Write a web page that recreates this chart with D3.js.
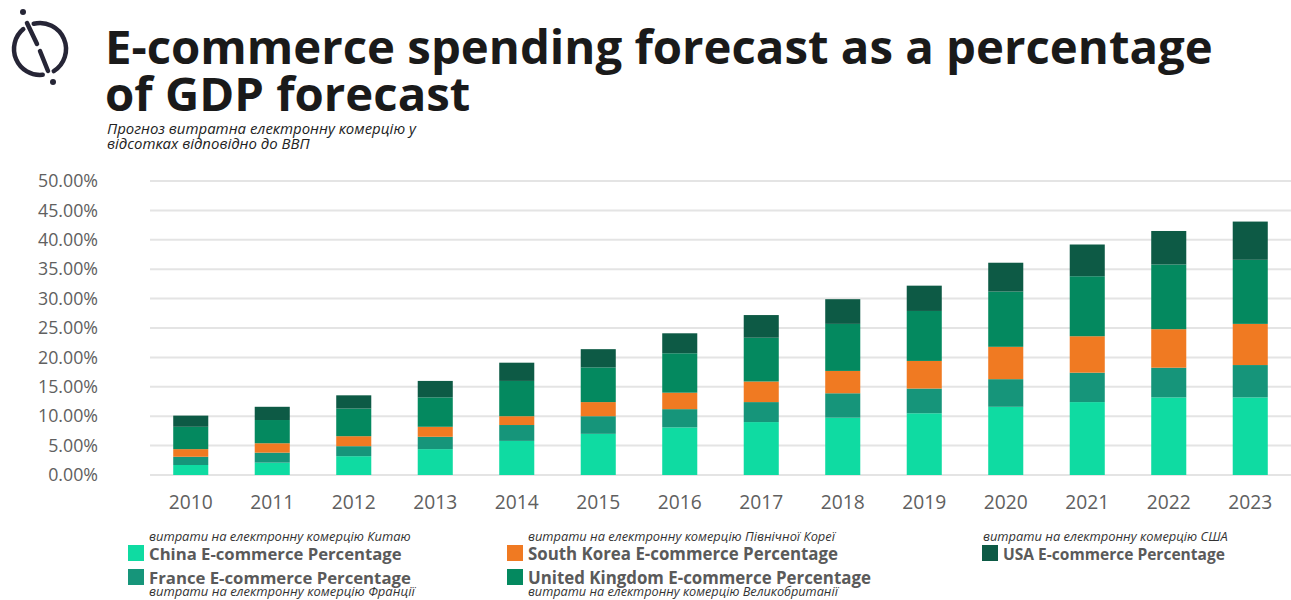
<!DOCTYPE html>
<html>
<head>
<meta charset="utf-8">
<script src="https://cdn.jsdelivr.net/npm/d3@7"></script>
<style>
  html, body { margin: 0; padding: 0; background: #fff; }
  svg { display: block; }
</style>
</head>
<body>
<svg id="chart" width="1291" height="600"></svg>
<script>
// Forecast years and e-commerce spending (% of GDP) per country, stacked bottom to top
const years = ["2010","2011","2012","2013","2014","2015","2016","2017","2018","2019","2020","2021","2022","2023"];
const china  = [1.7, 2.1, 3.2, 4.4, 5.8, 7.0, 8.1, 9.0, 9.75, 10.5, 11.6, 12.4, 13.2, 13.2];
const france = [1.4, 1.7, 1.7, 2.1, 2.7, 3.0, 3.1, 3.4, 4.15, 4.2, 4.7, 5.0, 5.05, 5.5];
const korea  = [1.3, 1.6, 1.7, 1.7, 1.5, 2.4, 2.8, 3.5, 3.8, 4.7, 5.5, 6.2, 6.55, 7.0];
const uk     = [3.8, 3.95, 4.7, 5.0, 6.0, 5.9, 6.7, 7.45, 8.0, 8.5, 9.4, 10.2, 11.0, 10.9];
const usa    = [1.9, 2.25, 2.25, 2.8, 3.1, 3.1, 3.4, 3.85, 4.2, 4.3, 4.9, 5.4, 5.7, 6.5];
const yTicks = [0, 5, 10, 15, 20, 25, 30, 35, 40, 45, 50];

const seriesKeys = ["china", "france", "korea", "uk", "usa"];
const seriesNames = {
  china: "China E-commerce Percentage",
  france: "France E-commerce Percentage",
  korea: "South Korea E-commerce Percentage",
  uk: "United Kingdom E-commerce Percentage",
  usa: "USA E-commerce Percentage"
};
const seriesNotes = {
  china: "витрати на електронну комерцію Китаю",
  france: "витрати на електронну комерцію Франції",
  korea: "витрати на електронну комерцію Північної Кореї",
  uk: "витрати на електронну комерцію Великобританії",
  usa: "витрати на електронну комерцію США"
};
const colors = {
  china: "#0fdba2",
  france: "#16957a",
  korea: "#f07a22",
  uk: "#04895f",
  usa: "#0d5a45"
};

const table = years.map((yr, i) => ({
  year: yr, china: china[i], france: france[i], korea: korea[i], uk: uk[i], usa: usa[i]
}));

const svg = d3.select("#chart");
const FONT = "'Open Sans', 'Noto Sans', sans-serif";

// Fit a text/tspan node to a target width by adjusting its font size
function fitWidth(sel, target) {
  const node = sel.node();
  const fs = parseFloat(sel.attr("font-size"));
  const w = node.getComputedTextLength();
  if (w > 0) sel.attr("font-size", (fs * target / w).toFixed(2));
  return sel;
}

// ---- logo: broken ring crossed by a broken diagonal, with two dots ----
const INK = "#262536";
const logo = svg.append("g").attr("transform", "translate(40,49)")
  .attr("fill", "none").attr("stroke", INK).attr("stroke-width", 4.5).attr("stroke-linecap", "round");
const R = 26;
const rad = deg => deg * Math.PI / 180;
function arcPath(a0, a1) {
  const p = d3.path();
  p.arc(0, 0, R, rad(a0), rad(a1));
  return p.toString();
}
logo.append("path").attr("d", arcPath(-104, 58));
logo.append("path").attr("d", arcPath(84, 230));
logo.append("line").attr("x1", -13).attr("y1", -26).attr("x2", -3).attr("y2", -5);
logo.append("line").attr("x1", 0).attr("y1", 2).attr("x2", 8).attr("y2", 22);
logo.append("circle").attr("cx", -17).attr("cy", -37).attr("r", 3).attr("fill", INK).attr("stroke", "none");
logo.append("circle").attr("cx", 13).attr("cy", 33).attr("r", 3).attr("fill", INK).attr("stroke", "none");

// ---- heading block: two-line title plus two-line italic subtitle ----
const heading = svg.append("text").attr("font-family", FONT).attr("fill", "#1a1a1a");
const t1 = heading.append("tspan").attr("x", 105).attr("y", 64)
  .attr("font-weight", 700).attr("font-size", 42)
  .text("E-commerce spending forecast as a percentage");
fitWidth(t1, 1108);
heading.append("tspan").attr("x", 105).attr("y", 111)
  .attr("font-weight", 700).attr("font-size", t1.attr("font-size"))
  .text("of GDP forecast");
const s1 = heading.append("tspan").attr("x", 107).attr("y", 134)
  .attr("font-style", "italic").attr("font-size", 13).attr("fill", "#222")
  .text("Прогноз витратна електронну комерцію у");
fitWidth(s1, 309);
heading.append("tspan").attr("x", 107).attr("y", 149)
  .attr("font-style", "italic").attr("font-size", s1.attr("font-size")).attr("fill", "#222")
  .text("відсотках відповідно до ВВП");

// ---- scales ----
const x = d3.scaleBand().domain(years).range([150, 1291]).paddingInner(0.57).paddingOuter(0.285);
const y = d3.scaleLinear().domain([0, 50]).range([475, 181]);

// gridlines
svg.append("g").selectAll("line").data(yTicks).join("line")
  .attr("x1", 150).attr("x2", 1291)
  .attr("y1", d => y(d)).attr("y2", d => y(d))
  .attr("stroke", "#e4e4e4").attr("stroke-width", 2);

// y axis labels
const yAxis = svg.append("g").attr("transform", "translate(98,0)")
  .call(d3.axisLeft(y).tickValues(yTicks).tickSize(0).tickPadding(0).tickFormat(d => d.toFixed(2) + "%"));
yAxis.select(".domain").remove();
const yLabels = yAxis.selectAll("text").attr("font-family", FONT).attr("font-size", 16).attr("fill", "#606060");
const yTop = yLabels.filter(d => d === 50);
fitWidth(yTop, 60);
yLabels.attr("font-size", yTop.attr("font-size"));

// x axis labels
const xAxis = svg.append("g").attr("transform", "translate(0,495)")
  .call(d3.axisBottom(x).tickSize(0).tickPadding(0));
xAxis.select(".domain").remove();
const xLabels = xAxis.selectAll("text").attr("font-family", FONT).attr("font-size", 17).attr("fill", "#606060").attr("dy", "0.71em");
const xFirst = xLabels.filter(d => d === "2010");
fitWidth(xFirst, 44);
xLabels.attr("font-size", xFirst.attr("font-size"));

// ---- stacked bars ----
const stack = d3.stack().keys(seriesKeys)(table);
svg.append("g").selectAll("g").data(stack).join("g")
  .attr("fill", d => colors[d.key])
  .selectAll("rect").data(d => d).join("rect")
  .attr("x", d => x(d.data.year))
  .attr("width", x.bandwidth())
  .attr("y", d => y(d[1]))
  .attr("height", d => y(d[0]) - y(d[1]));

// ---- legend: swatch, bold series name and a small Ukrainian caption ----
const legendItems = [
  { key: "china",  sx: 128, sy: 545, noteAbove: true },
  { key: "france", sx: 128, sy: 569, noteAbove: false },
  { key: "korea",  sx: 507, sy: 545, noteAbove: true },
  { key: "uk",     sx: 507, sy: 569, noteAbove: false },
  { key: "usa",    sx: 982, sy: 545, noteAbove: true }
];
const labelWidths = { china: 253, france: 262, korea: 310, uk: 343, usa: 222 };
const noteWidths  = { china: 262, france: 266, korea: 307, uk: 310, usa: 245 };

const lg = svg.append("g");
legendItems.forEach(it => {
  const g = lg.append("g");
  g.append("rect").attr("x", it.sx).attr("y", it.sy).attr("width", 16).attr("height", 16)
    .attr("fill", colors[it.key]);
  const txt = g.append("text").attr("font-family", FONT);
  const lbl = txt.append("tspan").attr("x", it.sx + 21).attr("y", it.sy + 15)
    .attr("font-weight", 700).attr("font-size", 17).attr("fill", "#5a5a5a")
    .text(seriesNames[it.key]);
  fitWidth(lbl, labelWidths[it.key]);
  const noteX = it.key === "usa" ? it.sx + 1 : it.sx + 21;
  const noteY = it.noteAbove ? it.sy - 4 : it.sy + 27;
  const note = txt.append("tspan").attr("x", noteX).attr("y", noteY)
    .attr("font-style", "italic").attr("font-size", 12).attr("fill", "#333")
    .text(seriesNotes[it.key]);
  fitWidth(note, noteWidths[it.key]);
});
</script>
</body>
</html>
